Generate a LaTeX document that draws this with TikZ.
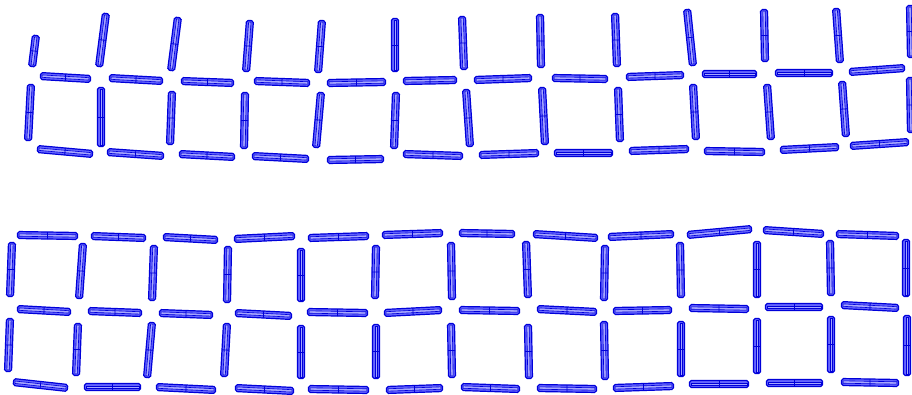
\documentclass[tikz,border=0pt]{standalone}
\begin{document}
\begin{tikzpicture}[x=1pt,y=-1pt,
  stickout/.style={draw=blue!85!black,fill=blue!60,line width=1.2pt,rounded corners=1.8pt},
  stickin/.style={draw=blue!85!black,fill=blue!35,line width=0.6pt},
  stickmid/.style={draw=blue!85!black,line width=0.8pt}]
\useasboundingbox (0,0) rectangle (912,394);
\newcommand\stick[4]{%
 \pgfmathsetmacro\sdx{#3-#1}\pgfmathsetmacro\sdy{#4-#2}%
 \pgfmathsetmacro\slen{veclen(\sdx,\sdy)}%
 \pgfmathsetmacro\sang{atan2(-\sdy,\sdx)}%
 \begin{scope}[shift={(#1,#2)},rotate=\sang]
  \path[stickout] (0.5,-3.5) rectangle (\slen-0.5,3.5);
  \path[stickin] (2,-1.2) rectangle (\slen-2,1.2);
  \path[stickmid] (\slen/2,-3.5) -- (\slen/2,3.5);
 \end{scope}}
% ---------- top block ----------
% row T1 verticals
\stick{36}{35}{32}{67}
\stick{106}{13}{99}{67}
\stick{178}{17}{171}{71}
\stick{250}{20}{246}{72}
\stick{322}{20}{318}{73}
\stick{395}{18}{395}{72}
\stick{462}{16}{464}{70}
\stick{540}{14}{541}{68}
\stick{615}{13}{617}{67}
\stick{687}{9}{693}{66}
\stick{764}{9}{765}{62}
\stick{836}{8}{840}{63}
\stick{910}{5}{911}{58}
% row T2 horizontals
\stick{40}{76}{91}{79}
\stick{109}{78}{163}{81}
\stick{181}{81}{234}{83}
\stick{254}{81}{310}{83}
\stick{327}{83}{386}{82}
\stick{403}{81}{457}{80}
\stick{474}{80}{532}{78}
\stick{552}{78}{608}{79}
\stick{626}{77}{684}{75}
\stick{702}{74}{757}{74}
\stick{775}{73}{833}{73}
\stick{849}{72}{905}{68}
% row T3 verticals
\stick{31}{84}{28}{141}
\stick{101}{87}{101}{147}
\stick{172}{91}{170}{145}
\stick{245}{92}{244}{149}
\stick{321}{92}{316}{148}
\stick{396}{92}{394}{149}
\stick{466}{89}{470}{147}
\stick{542}{87}{545}{145}
\stick{618}{87}{620}{142}
\stick{693}{84}{696}{140}
\stick{767}{84}{771}{140}
\stick{842}{81}{846}{137}
\stick{910}{77}{911}{133}
% row T4 horizontals
\stick{37}{149}{93}{154}
\stick{107}{152}{164}{156}
\stick{179}{154}{235}{157}
\stick{252}{156}{309}{159}
\stick{327}{160}{384}{159}
\stick{403}{154}{463}{156}
\stick{479}{155}{539}{153}
\stick{554}{153}{613}{153}
\stick{629}{151}{689}{149}
\stick{704}{151}{765}{152}
\stick{780}{150}{839}{147}
\stick{850}{146}{909}{142}
% ---------- bottom block ----------
% row B1 horizontals
\stick{17}{235}{78}{236}
\stick{91}{236}{146}{238}
\stick{163}{237}{218}{240}
\stick{234}{239}{295}{236}
\stick{308}{238}{369}{236}
\stick{382}{235}{443}{233}
\stick{459}{233}{515}{234}
\stick{533}{234}{598}{238}
\stick{608}{237}{674}{234}
\stick{687}{235}{752}{229}
\stick{763}{230}{824}{234}
\stick{836}{234}{899}{236}
% row B2 verticals
\stick{12}{242}{10}{297}
\stick{83}{243}{79}{299}
\stick{154}{245}{152}{301}
\stick{228}{246}{227}{303}
\stick{301}{248}{301}{302}
\stick{376}{245}{375}{299}
\stick{451}{242}{452}{300}
\stick{526}{241}{528}{298}
\stick{605}{245}{604}{301}
\stick{680}{242}{681}{298}
\stick{757}{241}{757}{298}
\stick{830}{240}{831}{296}
\stick{906}{239}{906}{297}
% row B3 horizontals
\stick{17}{309}{71}{312}
\stick{88}{311}{142}{313}
\stick{159}{313}{213}{315}
\stick{235}{313}{292}{316}
\stick{307}{312}{368}{313}
\stick{384}{313}{442}{310}
\stick{459}{310}{520}{311}
\stick{537}{309}{597}{312}
\stick{613}{311}{672}{310}
\stick{689}{308}{749}{309}
\stick{765}{307}{823}{307}
\stick{841}{305}{899}{308}
% row B4 verticals
\stick{10}{318}{8}{372}
\stick{78}{323}{76}{376}
\stick{152}{322}{147}{378}
\stick{227}{323}{224}{377}
\stick{301}{325}{301}{379}
\stick{376}{324}{376}{379}
\stick{451}{323}{452}{378}
\stick{528}{324}{529}{379}
\stick{604}{321}{605}{380}
\stick{681}{321}{681}{377}
\stick{757}{318}{757}{374}
\stick{831}{316}{831}{373}
\stick{907}{315}{907}{376}
% row B5 horizontals
\stick{13}{382}{68}{388}
\stick{84}{387}{141}{387}
\stick{156}{387}{216}{390}
\stick{235}{388}{294}{391}
\stick{308}{389}{369}{390}
\stick{386}{390}{443}{388}
\stick{461}{387}{520}{389}
\stick{537}{388}{597}{389}
\stick{613}{388}{674}{386}
\stick{689}{384}{749}{384}
\stick{766}{383}{823}{383}
\stick{841}{382}{899}{383}
\end{tikzpicture}
\end{document}
